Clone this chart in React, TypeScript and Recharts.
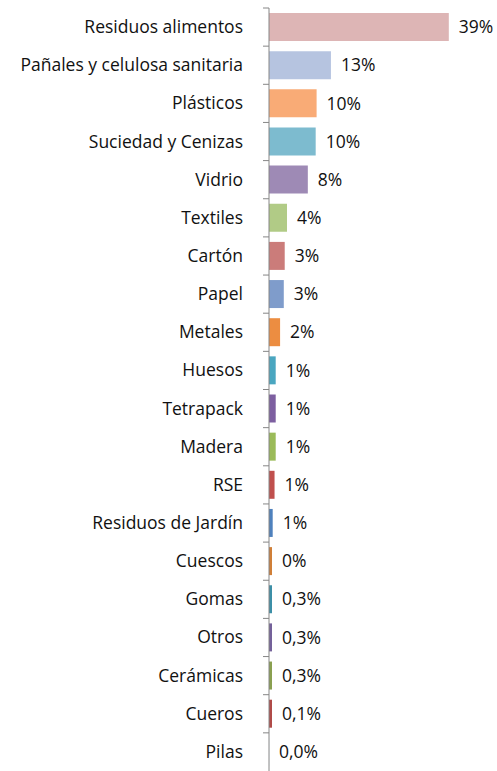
import { BarChart, Bar, XAxis, YAxis, Cell, LabelList } from 'recharts';

const categories = [
  'Residuos alimentos', 'Pañales y celulosa sanitaria', 'Plásticos', 'Suciedad y Cenizas', 'Vidrio',
  'Textiles', 'Cartón', 'Papel', 'Metales', 'Huesos', 'Tetrapack', 'Madera', 'RSE',
  'Residuos de Jardín', 'Cuescos', 'Gomas', 'Otros', 'Cerámicas', 'Cueros', 'Pilas',
];
const shares = [38.9, 13.4, 10.3, 10.1, 8.4, 3.9, 3.4, 3.2, 2.4, 1.45, 1.45, 1.45, 1.2, 0.8, 0.4, 0.3, 0.3, 0.3, 0.1, 0.01];
const valueLabels = [
  '39%', '13%', '10%', '10%', '8%', '4%', '3%', '3%', '2%', '1%', '1%', '1%', '1%',
  '1%', '0%', '0,3%', '0,3%', '0,3%', '0,1%', '0,0%',
];
const colors = [
  '#ddb5b5', '#b6c4e0', '#f9ab76', '#7dbbcf', '#9e8ab5', '#b1cb86', '#cb7c7a', '#7f9ccb',
  '#ec8d41', '#4aa6c0', '#7d5fa0', '#9bbb59', '#c0504d', '#4f81bd', '#d07f38', '#3c8fa7',
  '#74619a', '#8aa050', '#b04b48', '#4f81bd',
];

const data = categories.map((name, i) => ({ name, value: shares[i], label: valueLabels[i] }));

const W = 497;
const H = 771;
const TOP = 8;
const AXIS_W = 269;
const BAND = (H - TOP) / categories.length;
const FONT = '"Open Sans", sans-serif';
const FS = 17.5;

function CatTick(props: any) {
  const { x, y, payload } = props;
  const axisX = x + 6 + 20;
  return (
    <g>
      <line x1={axisX - 6} x2={axisX} y1={y - BAND / 2} y2={y - BAND / 2} stroke="#868686" />
      <text x={x} y={y} dy={6} textAnchor="end" fill="#111" fontSize={FS} fontFamily={FONT}>
        {payload.value}
      </text>
    </g>
  );
}

export default function App() {
  return (
    <div style={{ position: 'absolute', left: 0, top: 0, background: '#fff' }}>
      <BarChart
        width={W}
        height={H}
        data={data}
        layout="vertical"
        margin={{ top: TOP, right: 20, left: 0, bottom: 0 }}
        barCategoryGap={5}
      >
        <XAxis type="number" domain={[0, 45]} hide />
        <YAxis
          type="category"
          dataKey="name"
          width={AXIS_W}
          tickLine={false}
          tickSize={6}
          tickMargin={20}
          axisLine={{ stroke: '#868686' }}
          interval={0}
          tick={<CatTick />}
        />
        <Bar
          dataKey="value"
          isAnimationActive={false}
          minPointSize={(v: number) => (v >= 0.1 ? 3 : 0)}
        >
          {data.map((d, i) => (
            <Cell key={d.name} fill={colors[i]} />
          ))}
          <LabelList dataKey="label" position="right" offset={10} fill="#111" fontSize={FS} fontFamily={FONT} />
        </Bar>
      </BarChart>
    </div>
  );
}
